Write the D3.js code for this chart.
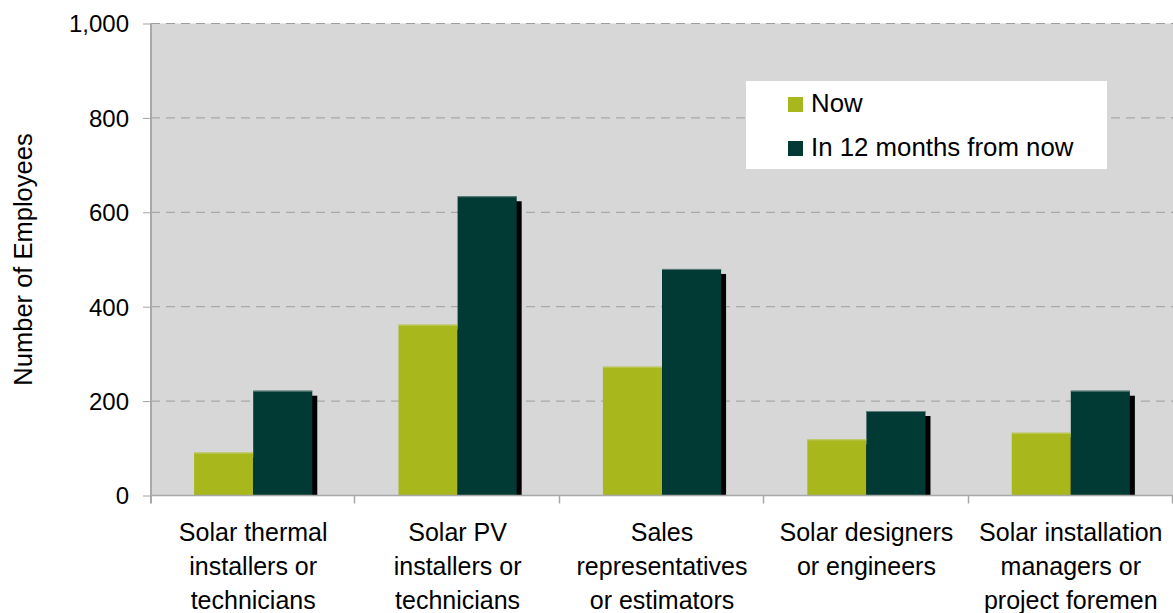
<!DOCTYPE html>
<html>
<head>
<meta charset="utf-8">
<script src="https://cdn.jsdelivr.net/npm/d3@7"></script>
<style>
  body { margin: 0; background: #fff; }
  svg { display: block; font-family: "Liberation Sans", Arial, sans-serif; }
</style>
</head>
<body>
<div id="chart"></div>
<script>

// Data.
const categories = ["thermal", "pv", "sales", "designers", "managers"];
const categoryLines = [
  ["Solar thermal", "installers or", "technicians"],
  ["Solar PV", "installers or", "technicians"],
  ["Sales", "representatives", "or estimators"],
  ["Solar designers", "or engineers"],
  ["Solar installation", "managers or", "project foremen"]
];
const seriesNames = ["Now", "In 12 months from now"];
const nowValues = [91, 362, 273, 119, 133];
const futureValues = [222, 634, 480, 179, 222];
const yTicks = [0, 200, 400, 600, 800, 1000];

const WIDTH = 1173;
const HEIGHT = 613;

// Plot area.
const PLOT = {'left': 151, 'right': 1173, 'top': 23.5, 'bottom': 495.5};

const COLORS = ["#a8b71b", "#013a35"];
const EDGES = ["#c3cd72", "#5f807c"];

var svg = d3.select("#chart").append("svg")
    .attr("width", WIDTH)
    .attr("height", HEIGHT);

var x0 = d3.scaleBand()
    .domain(categories)
    .range([PLOT.left, PLOT.right])
    .padding(0);

var x1 = d3.scaleBand()
    .domain([0, 1])
    .range([0, x0.bandwidth()])
    .paddingInner(0)
    .paddingOuter(0.73);

var y = d3.scaleLinear()
    .domain([0, 1000])
    .range([PLOT.bottom, PLOT.top]);

// background
svg.append("rect")
    .attr("x", PLOT.left)
    .attr("y", PLOT.top)
    .attr("width", PLOT.right - PLOT.left)
    .attr("height", PLOT.bottom - PLOT.top)
    .attr("fill", "#d7d7d7");

// gridlines
svg.append("g")
    .selectAll("line")
    .data(yTicks.filter(function(d) { return d > 0; }))
    .enter()
    .append("line")
    .attr("x1", PLOT.left)
    .attr("x2", PLOT.right)
    .attr("y1", function(d) { return y(d); })
    .attr("y2", function(d) { return y(d); })
    .attr("stroke", "#9d9d9d")
    .attr("stroke-width", 1)
    .attr("stroke-dasharray", "9,6");

var rows = categories.map(function(c, i) {
  return {cat: c, values: [nowValues[i], futureValues[i]]};
});

var groups = svg.selectAll(".cat")
    .data(rows)
    .enter()
    .append("g")
    .attr("class", "cat")
    .attr("transform", function(d) { return "translate(" + x0(d.cat) + ",0)"; });

// shadows first
groups.selectAll(".shadow")
    .data(function(d) { return d.values; })
    .enter()
    .append("rect")
    .attr("class", "shadow")
    .attr("x", function(d, i) { return x1(i) + 5; })
    .attr("y", function(d) { return y(d) + 5; })
    .attr("width", x1.bandwidth())
    .attr("height", function(d) { return Math.max(0, PLOT.bottom - y(d) - 5); })
    .attr("fill", "#000");

groups.selectAll(".bar")
    .data(function(d) { return d.values; })
    .enter()
    .append("rect")
    .attr("class", "bar")
    .attr("x", function(d, i) { return x1(i); })
    .attr("y", function(d) { return y(d); })
    .attr("width", x1.bandwidth())
    .attr("height", function(d) { return PLOT.bottom - y(d); })
    .attr("fill", function(d, i) { return COLORS[i]; });

// thin light edge on top of bars
groups.selectAll(".edge")
    .data(function(d) { return d.values; })
    .enter()
    .append("line")
    .attr("x1", function(d, i) { return x1(i); })
    .attr("x2", function(d, i) { return x1(i) + x1.bandwidth(); })
    .attr("y1", function(d) { return y(d) + 0.5; })
    .attr("y2", function(d) { return y(d) + 0.5; })
    .attr("stroke", function(d, i) { return EDGES[i]; })
    .attr("stroke-width", 1);

// y axis
var yAxis = d3.axisLeft(y)
    .tickValues(yTicks)
    .tickSize(8)
    .tickPadding(14)
    .tickFormat(d3.format(","));

var yg = svg.append("g")
    .attr("transform", "translate(" + PLOT.left + ",0)")
    .call(yAxis);
yg.select(".domain").remove();
yg.selectAll(".tick line").attr("stroke", "#a3a3a3");
yg.selectAll(".tick text")
    .attr("fill", "#000")
    .attr("dy", "0.35em")
    .style("font-size", "24px")
    .style("font-family", "'Liberation Sans', Arial, sans-serif");

svg.append("line")
    .attr("x1", PLOT.left)
    .attr("x2", PLOT.left)
    .attr("y1", PLOT.top)
    .attr("y2", PLOT.bottom + 8)
    .attr("stroke", "#a8a8a8")
    .attr("stroke-width", 2);

// x axis line + boundary ticks
svg.append("line")
    .attr("x1", PLOT.left)
    .attr("x2", PLOT.right)
    .attr("y1", PLOT.bottom)
    .attr("y2", PLOT.bottom)
    .attr("stroke", "#a8a8a8")
    .attr("stroke-width", 1.5);

svg.append("g")
    .selectAll("line")
    .data(categories)
    .enter()
    .append("line")
    .attr("x1", function(d) { return Math.round(x0(d) + x0.bandwidth()) - 0.5; })
    .attr("x2", function(d) { return Math.round(x0(d) + x0.bandwidth()) - 0.5; })
    .attr("y1", PLOT.bottom)
    .attr("y2", PLOT.bottom + 8)
    .attr("stroke", "#a8a8a8")
    .attr("stroke-width", 1.5);

// category labels
var labels = svg.append("g")
    .selectAll("text")
    .data(categories)
    .enter()
    .append("text")
    .attr("x", function(d) { return x0(d) + x0.bandwidth() / 2; })
    .attr("y", 541)
    .attr("text-anchor", "middle")
    .style("font-size", "25px");

labels.selectAll("tspan")
    .data(function(d, i) { return categoryLines[i]; })
    .enter()
    .append("tspan")
    .attr("x", function() { return d3.select(this.parentNode).attr("x"); })
    .attr("dy", function(d, i) { return i === 0 ? 0 : 34; })
    .text(function(d) { return d; });

// y title
svg.append("text")
    .attr("transform", "translate(32," + ((PLOT.top + PLOT.bottom) / 2) + ") rotate(-90)")
    .attr("text-anchor", "middle")
    .style("font-size", "25.5px")
    .text("Number of Employees");

// legend
var legend = svg.append("g");
legend.append("rect")
    .attr("x", 746)
    .attr("y", 81)
    .attr("width", 361)
    .attr("height", 88)
    .attr("fill", "#fff");

var items = legend.selectAll(".item")
    .data(seriesNames)
    .enter()
    .append("g")
    .attr("class", "item")
    .attr("transform", function(d, i) { return "translate(788," + (97 + i * 44) + ")"; });

items.append("rect")
    .attr("width", 15)
    .attr("height", 15)
    .attr("fill", function(d, i) { return COLORS[i]; });

items.append("text")
    .attr("x", 23)
    .attr("y", 15)
    .style("font-size", "25.8px")
    .text(function(d) { return d; });

</script>
</body>
</html>
